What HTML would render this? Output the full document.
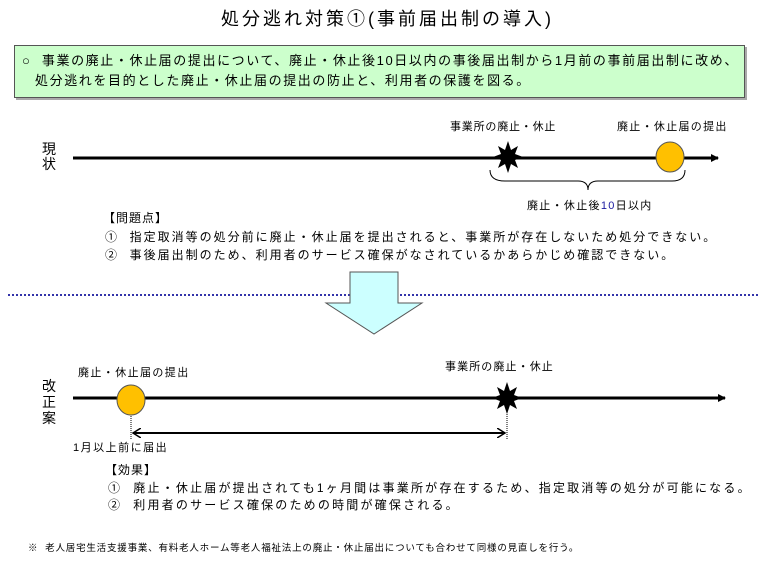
<!DOCTYPE html>
<html><head><meta charset="utf-8"><style>
body{margin:0;width:758px;height:561px;background:#fff;position:relative;overflow:hidden;font-family:"Liberation Sans","Noto Sans CJK JP",sans-serif;color:#000}
.t{position:absolute;white-space:nowrap;line-height:1}
</style></head><body>
<div class="t" style="left:221px;top:10px;font-size:18px;letter-spacing:3px">処分逃れ対策①(事前届出制の導入)</div>
<div style="position:absolute;left:14px;top:45px;width:729px;height:51px;background:#ccffcc;border:1.5px solid #555;box-shadow:2px 2px 0 #aaa"></div>
<div class="t" style="left:22px;top:54px;font-size:13px;letter-spacing:1.6px">○&nbsp; 事業の廃止・休止届の提出について、廃止・休止後10日以内の事後届出制から1月前の事前届出制に改め、</div>
<div class="t" style="left:35px;top:74px;font-size:13px;letter-spacing:1.6px">処分逃れを目的とした廃止・休止届の提出の防止と、利用者の保護を図る。</div>

<svg width="758" height="561" style="position:absolute;left:0;top:0">
<defs><marker id="a" markerWidth="8" markerHeight="8" refX="7" refY="4" orient="auto" markerUnits="userSpaceOnUse"><path d="M0,0L8,4L0,8z"/></marker>
<marker id="b" markerWidth="10" markerHeight="10" refX="8" refY="5" orient="auto-start-reverse" markerUnits="userSpaceOnUse"><path d="M0,0L8,5L0,10" fill="none" stroke="#000" stroke-width="1.5"/></marker></defs>
<line x1="73" y1="158" x2="718" y2="158" stroke="#000" stroke-width="3" marker-end="url(#a)"/>
<polygon transform="translate(508,157)" points="0,-16 3,-7 10,-11 7,-3 15,0 7,3 10,11 3,7 0,16 -3,7 -10,11 -7,3 -15,0 -7,-3 -10,-11 -3,-7"/>
<ellipse cx="670" cy="157" rx="14" ry="15" fill="#ffc000" stroke="#555" stroke-width="1"/>
<path d="M490,170 Q490,181 505,181 L578,181 Q588,181 588,190 Q588,181 598,181 L672,181 Q685,181 685,170" fill="none" stroke="#000" stroke-width="1"/>
<line x1="8" y1="295" x2="758" y2="295" stroke="#3333aa" stroke-width="2" stroke-dasharray="2,2"/>
<path d="M350,272 L398,272 L398,303 L422,303 L374,334 L326,303 L350,303 Z" fill="#ccffff" stroke="#555" stroke-width="1"/>
<line x1="73" y1="398" x2="725" y2="398" stroke="#000" stroke-width="3" marker-end="url(#a)"/>
<ellipse cx="131" cy="400" rx="14" ry="15" fill="#ffc000" stroke="#555" stroke-width="1"/>
<polygon transform="translate(507,398)" points="0,-16 3,-7 10,-11 7,-3 15,0 7,3 10,11 3,7 0,16 -3,7 -10,11 -7,3 -15,0 -7,-3 -10,-11 -3,-7"/>
<line x1="131" y1="416" x2="131" y2="440" stroke="#000" stroke-width="1" stroke-dasharray="1,1"/>
<line x1="507" y1="412" x2="507" y2="440" stroke="#000" stroke-width="1" stroke-dasharray="1,1"/>
<line x1="133" y1="433" x2="505" y2="433" stroke="#000" stroke-width="2" marker-start="url(#b)" marker-end="url(#b)"/>
</svg>

<div class="t" style="left:450px;top:122px;font-size:11px;letter-spacing:0.8px">事業所の廃止・休止</div>
<div class="t" style="left:617px;top:122px;font-size:11px;letter-spacing:1.3px">廃止・休止届の提出</div>
<div class="t" style="left:42px;top:142px;font-size:14px;line-height:15px;width:16px;white-space:normal">現状</div>
<div class="t" style="left:527px;top:201px;font-size:11px;letter-spacing:1.3px">廃止・休止後<span style="color:#1a1aa0">10</span>日以内</div>
<div class="t" style="left:103px;top:212px;font-size:12px;letter-spacing:1px">【問題点】</div>
<div class="t" style="left:105px;top:231px;font-size:12px;letter-spacing:2px">①&nbsp; 指定取消等の処分前に廃止・休止届を提出されると、事業所が存在しないため処分できない。</div>
<div class="t" style="left:105px;top:249px;font-size:12px;letter-spacing:2px">②&nbsp; 事後届出制のため、利用者のサービス確保がなされているかあらかじめ確認できない。</div>

<div class="t" style="left:78px;top:368px;font-size:11px;letter-spacing:1.4px">廃止・休止届の提出</div>
<div class="t" style="left:445px;top:362px;font-size:11px;letter-spacing:1.1px">事業所の廃止・休止</div>
<div class="t" style="left:42px;top:378px;font-size:14px;line-height:16px;width:16px;white-space:normal">改正案</div>
<div class="t" style="left:73px;top:443px;font-size:11px;letter-spacing:1.5px">1月以上前に届出</div>
<div class="t" style="left:105px;top:464px;font-size:12px;letter-spacing:1px">【効果】</div>
<div class="t" style="left:108px;top:482px;font-size:12px;letter-spacing:2.2px">①&nbsp; 廃止・休止届が提出されても1ヶ月間は事業所が存在するため、指定取消等の処分が可能になる。</div>
<div class="t" style="left:108px;top:499px;font-size:12px;letter-spacing:2.2px">②&nbsp; 利用者のサービス確保のための時間が確保される。</div>
<div class="t" style="left:28px;top:544px;font-size:9.5px;letter-spacing:0.8px">※&nbsp; 老人居宅生活支援事業、有料老人ホーム等老人福祉法上の廃止・休止届出についても合わせて同様の見直しを行う。</div>
</body></html>
